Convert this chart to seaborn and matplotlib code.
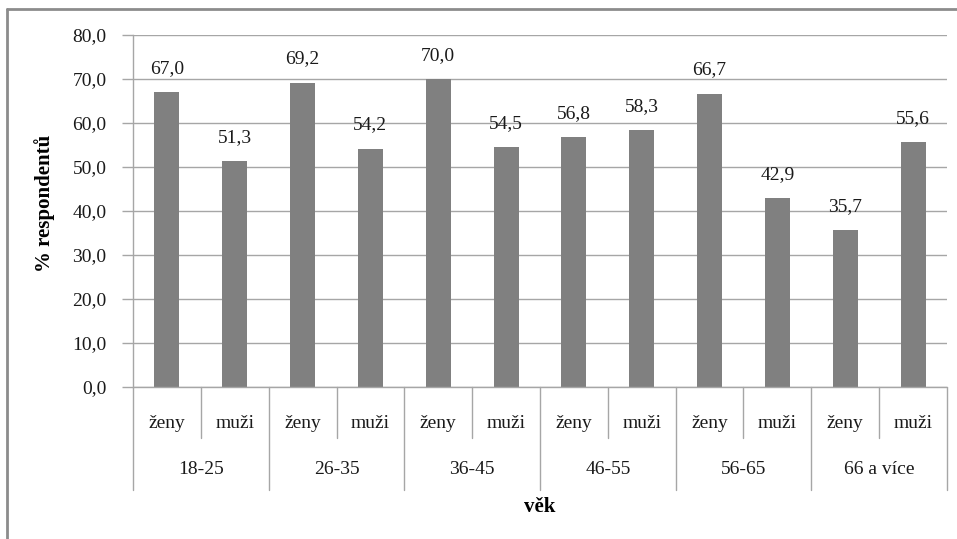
import matplotlib
matplotlib.use("Agg")
import matplotlib.pyplot as plt
import matplotlib.transforms as mtransforms
from matplotlib.lines import Line2D
import pandas as pd
import seaborn as sns

# Data: share of respondents by age group and sex
age_groups = ["18-25", "26-35", "36-45", "46-55", "56-65", "66 a více"]
sexes = ["ženy", "muži"]
zeny = [67.0, 69.2, 70.0, 56.8, 66.7, 35.7]
muzi = [51.3, 54.2, 54.5, 58.3, 42.9, 55.6]
y_ticks = [0, 10, 20, 30, 40, 50, 60, 70, 80]

rows = []
for g, z, m in zip(age_groups, zeny, muzi):
    rows.append({"slot": f"{g}|ženy", "group": g, "sex": "ženy", "value": z})
    rows.append({"slot": f"{g}|muži", "group": g, "sex": "muži", "value": m})
df = pd.DataFrame(rows)
order = list(df["slot"])

sns.set_theme(style="white")
plt.rcParams["font.family"] = ["Liberation Serif", "DejaVu Serif"]

W, H = 957, 539
fig = plt.figure(figsize=(W / 100, H / 100), dpi=100)
fig.patch.set_facecolor("white")

x0, x1 = 133, 947
y_top, y_bot = 35, 387
ax = fig.add_axes([x0 / W, 1 - y_bot / H, (x1 - x0) / W, (y_bot - y_top) / H])

grid_c = "#a6a6a6"
txt_c = "#1a1a1a"
fs = 14
sns.barplot(data=df, x="slot", y="value", order=order, color="#808080",
            saturation=1, width=0.37, ax=ax, errorbar=None)
for p in ax.patches:
    p.set_edgecolor("none")

ax.set_xlim(-0.5, len(order) - 0.5)
ax.set_ylim(0, 80)
ax.set_yticks(y_ticks)
ax.set_yticklabels([f"{v:.1f}".replace(".", ",") for v in y_ticks], fontsize=fs)
ax.tick_params(axis="y", length=8, width=1, color=grid_c, pad=11, left=True)
for lbl in ax.get_yticklabels():
    lbl.set_color(txt_c)
ax.yaxis.grid(True, color=grid_c, linewidth=1)
ax.set_axisbelow(True)
ax.set_xticks([])
ax.set_xlabel("")
ax.set_ylabel("")
for side in ["top", "right", "bottom"]:
    ax.spines[side].set_visible(False)
ax.spines["left"].set_color(grid_c)
ax.spines["left"].set_linewidth(1)

# Value labels above bars
for i, v in enumerate(df["value"]):
    ax.annotate(f"{v:.1f}".replace(".", ","), (i, v), xytext=(0, 17),
                textcoords="offset points", ha="center", va="center",
                fontsize=fs, color=txt_c)

# Two-level category axis drawn below the plot area
trans = mtransforms.blended_transform_factory(ax.transData, fig.transFigure)
def fy(px):
    return 1 - px / H

ax.add_line(Line2D([-0.5, len(order) - 0.5], [fy(y_bot), fy(y_bot)], transform=trans,
                   color=grid_c, lw=1, clip_on=False))
for k in range(len(order) + 1):
    xb = k - 0.5
    bottom = 490 if k % 2 == 0 else 438
    ax.add_line(Line2D([xb, xb], [fy(y_bot), fy(bottom)], transform=trans,
                       color=grid_c, lw=1, clip_on=False))
for i, s in enumerate(df["sex"]):
    ax.text(i, fy(423), s, transform=trans, ha="center", va="center",
            fontsize=fs, color=txt_c)
for j, g in enumerate(age_groups):
    ax.text(2 * j + 0.5, fy(470), g, transform=trans, ha="center", va="center",
            fontsize=fs, color=txt_c)

fig.text((x0 + x1) / 2 / W, fy(507), "věk", ha="center", va="center",
         fontsize=15, fontweight="bold", color="black")
fig.text(45 / W, fy(203), "% respondentů", ha="center", va="center",
         rotation=90, fontsize=15, fontweight="bold", color="black")

# Outer chart frame (left and top edges)
fig.add_artist(Line2D([7.5 / W, 7.5 / W], [0, fy(9)], transform=fig.transFigure,
                      color="#8c8c8c", lw=2))
fig.add_artist(Line2D([7.5 / W, 1], [fy(9), fy(9)], transform=fig.transFigure,
                      color="#8c8c8c", lw=2))

fig.savefig("out.png", dpi=100)
